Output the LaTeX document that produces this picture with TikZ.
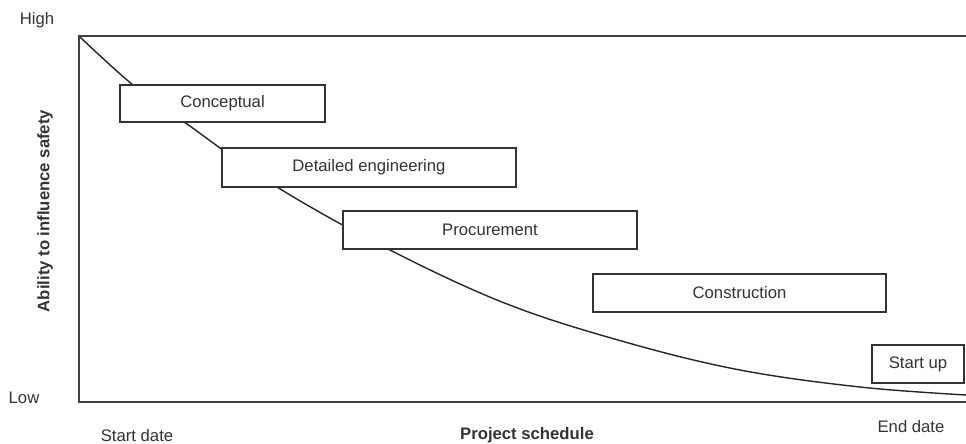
\documentclass[tikz,border=0pt]{standalone}
\usepackage{fontspec}
\setmainfont{Liberation Sans}
\begin{document}
\begin{tikzpicture}[x=0.02cm,y=-0.02cm,
  every node/.style={font=\fontsize{9.5}{11}\selectfont, text=black!80},
  phase/.style={draw=black!80, line width=1pt, fill=white, minimum height=0.76cm, inner sep=0pt},
  axisline/.style={draw=black!75, line width=1pt},
  curveline/.style={draw=black!85, line width=0.8pt},
  lbl/.style={inner sep=0pt}]
\useasboundingbox (0,0) rectangle (966,443);
% axes
\coordinate (TL) at (79,36);
\coordinate (TR) at (966,36);
\coordinate (BL) at (79,402);
\coordinate (BR) at (966,402);
\draw[axisline] (TR) -- (TL) -- (BL) -- (BR);
% curve
\draw[curveline] plot[smooth, tension=0.6] coordinates {(80,37) (133,85) (187,124) (277,187) (390,250) (507,304) (625,342) (740,370) (860,387) (966,395)};
% phases
\node[phase, minimum width=4.1cm, minimum height=0.74cm] (concept) at (222.5,103.5) {Conceptual};
\node[phase, minimum width=5.88cm, minimum height=0.78cm] (detail) at (369,167.5) {Detailed engineering};
\node[phase, minimum width=5.88cm] (procure) at (490,230) {Procurement};
\node[phase, minimum width=5.86cm] (construct) at (739.5,293) {Construction};
\node[phase, minimum width=1.84cm] (startup) at (918,364) {Start up};
% labels
\node[lbl] (high) at (37,20) {High};
\node[lbl] (low) at (24,398) {Low};
\node[lbl] (start) at (137,436) {Start date};
\node[lbl] (end) at (911,427) {End date};
\node[lbl, font=\fontsize{9.5}{11}\selectfont\bfseries] (xlab) at (527,435) {Project schedule};
\node[lbl, font=\fontsize{9.5}{11}\selectfont\bfseries, rotate=90] (ylab) at (45,211) {Ability to influence safety};
\end{tikzpicture}
\end{document}
